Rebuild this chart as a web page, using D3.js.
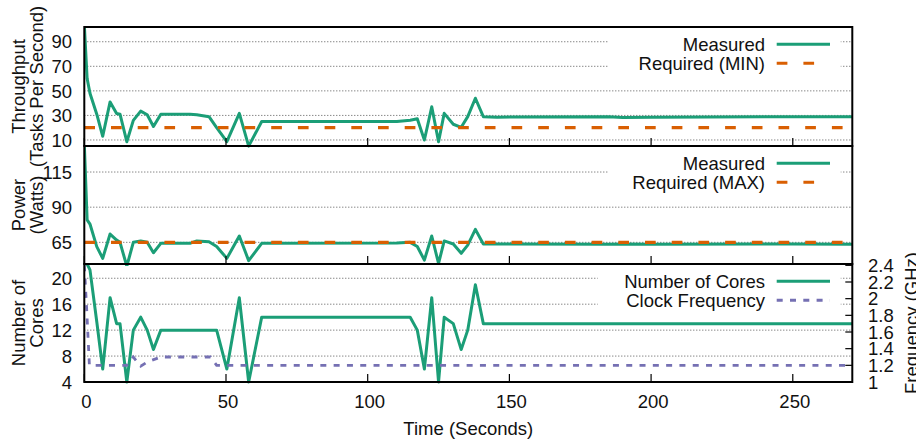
<!DOCTYPE html>
<html>
<head>
<meta charset="utf-8">
<script src="https://cdn.jsdelivr.net/npm/d3@7"></script>
<style>
    body { margin: 0; background: #fff; }
    text { font-family: "Liberation Sans", Arial, Helvetica, sans-serif; font-size: 18.5px; fill: #111; }
</style>
</head>
<body>
<div id="chart"></div>
<script>
// Sample times shared by the three measured series (seconds)
const timeSec = [0, 1, 2, 4.4, 6.5, 9.1, 11.4, 12.6, 15, 17.3, 19.9, 22.2, 24.4, 27, 37.3, 39.7, 44, 46.7,
    50.3, 54.7, 58, 62.6, 110.3, 115, 117.5, 120, 122.6, 125, 127, 130.2, 133, 135.3, 138, 140.8, 145.6,
    185, 190, 200, 250, 271];
const throughput = [104, 60, 48, 31, 13, 41, 31.5, 31, 8.6, 26, 33.5, 30.5, 21, 31, 31, 30.5, 29, 20,
    8.6, 31.7, 5, 25, 25, 26, 27.3, 10, 37, 8.6, 31.7, 22.8, 20.3, 29, 44, 29, 28.6,
    29, 28.4, 28.6, 29, 28.9];
const power = [135, 81, 78, 62, 53.6, 70.9, 66.6, 65, 48, 65, 66, 65, 57.6, 64.3, 64.3, 66, 65.4, 62,
    53.6, 69.5, 52, 64.3, 64.5, 65, 62, 52.4, 69.5, 50, 66, 63.8, 57.2, 63, 74.2, 63.8, 63.8,
    63.6, 63.8, 63.6, 63.8, 63.6];
const cores = [22.2, 22.2, 21.3, 13.3, 6, 17, 13, 13, 4, 12, 14, 12, 9, 12, 12, 12, 12, 12,
    6, 17, 4, 14, 14, 14, 12, 6, 17, 4, 14, 13, 9, 12, 19, 13, 13,
    13, 13, 13, 13, 13];

// Clock frequency has its own sample times
const freqTime = [0, 0.8, 1.8, 15, 17.3, 19.9, 22.2, 27, 44.5, 46.7, 271];
const freqGHz = [2.4, 1.9, 1.2, 1.2, 1.3, 1.19, 1.24, 1.3, 1.3, 1.2, 1.2];

const throughputMin = 20;
const powerMax = 65;

const xTicks = [0, 50, 100, 150, 200, 250];
const throughputTicks = [10, 30, 50, 70, 90];
const powerTicks = [65, 90, 115];
const coreTicks = [4, 8, 12, 16, 20];
const freqTicks = [1, 1.2, 1.4, 1.6, 1.8, 2, 2.2, 2.4];

const colors = {
    measured: '#1b9e77',
    required: '#d95f02',
    freq: '#7570b3'
};

const W = 916, H = 443;
const plotLeft = 84.3, plotRight = 852.3;
const panels = [
    {top: 27, bottom: 146, domain: [5.1, 102], ticks: throughputTicks,
        label: ['Throughput', '(Tasks Per Second)'],
        keys: [{name: 'Measured', color: colors.measured, dash: null},
               {name: 'Required (MIN)', color: colors.required, dash: '10.7,16'}]},
    {top: 146, bottom: 264, domain: [49.6, 133.5], ticks: powerTicks,
        label: ['Power', '(Watts)'],
        keys: [{name: 'Measured', color: colors.measured, dash: null},
               {name: 'Required (MAX)', color: colors.required, dash: '10.7,16'}]},
    {top: 264, bottom: 382, domain: [4, 22.2], ticks: coreTicks,
        label: ['Number of', 'Cores'],
        keys: [{name: 'Number of Cores', color: colors.measured, dash: null},
               {name: 'Clock Frequency', color: colors.freq, dash: '6,7.3'}]}
];

const svg = d3.select('#chart').append('svg')
    .attr('width', W)
    .attr('height', H);

const x = d3.scaleLinear().domain([0, 271]).range([plotLeft, plotRight]);

panels.forEach((p, i) => {
    p.y = d3.scaleLinear().domain(p.domain).range([p.bottom, p.top]);
    // a little slack at the bottom so lines touching the axis are not cut in half
    svg.append('clipPath').attr('id', 'clip' + i)
        .append('rect')
        .attr('x', plotLeft).attr('y', p.top)
        .attr('width', plotRight - plotLeft).attr('height', p.bottom - p.top + 2);
});

const yFreq = d3.scaleLinear().domain([1, 2.416]).range([panels[2].bottom, panels[2].top]);

// Grid lines and legend backing
panels.forEach(p => {
    svg.append('g').selectAll('line')
        .data(p.ticks)
        .join('line')
        .attr('x1', plotLeft).attr('x2', plotRight)
        .attr('y1', d => p.y(d)).attr('y2', d => p.y(d))
        .attr('stroke', '#555')
        .attr('stroke-width', 1)
        .attr('stroke-dasharray', '1,2');

    const maxChars = d3.max(p.keys, k => k.name.length);
    const keyRight = 840.7;
    const rowY = [p.top + 17.3, p.top + 36.3];
    p.rowY = rowY;
    svg.append('rect')
        .attr('x', keyRight - (maxChars * 10.3 + 88.5))
        .attr('y', rowY[0] - 10)
        .attr('width', maxChars * 10.3 + 88.5)
        .attr('height', rowY[1] - rowY[0] + 20)
        .attr('fill', '#fff');
});

const line = (yScale) => d3.line().x(d => x(d[0])).y(d => yScale(d[1]));

// Throughput
svg.append('path')
    .datum(d3.zip(timeSec, throughput))
    .attr('clip-path', 'url(#clip0)')
    .attr('fill', 'none').attr('stroke', colors.measured)
    .attr('stroke-width', 3).attr('stroke-linejoin', 'round')
    .attr('d', line(panels[0].y));
svg.append('path')
    .datum([[0, throughputMin], [271, throughputMin]])
    .attr('clip-path', 'url(#clip0)')
    .attr('fill', 'none').attr('stroke', colors.required)
    .attr('stroke-width', 3.3).attr('stroke-dasharray', '10.7,16')
    .attr('d', line(panels[0].y));

// Power
svg.append('path')
    .datum(d3.zip(timeSec, power))
    .attr('clip-path', 'url(#clip1)')
    .attr('fill', 'none').attr('stroke', colors.measured)
    .attr('stroke-width', 3).attr('stroke-linejoin', 'round')
    .attr('d', line(panels[1].y));
svg.append('path')
    .datum([[0, powerMax], [271, powerMax]])
    .attr('clip-path', 'url(#clip1)')
    .attr('fill', 'none').attr('stroke', colors.required)
    .attr('stroke-width', 3.3).attr('stroke-dasharray', '10.7,16')
    .attr('d', line(panels[1].y));

// Cores and clock frequency
svg.append('path')
    .datum(d3.zip(timeSec, cores))
    .attr('clip-path', 'url(#clip2)')
    .attr('fill', 'none').attr('stroke', colors.measured)
    .attr('stroke-width', 3).attr('stroke-linejoin', 'round')
    .attr('d', line(panels[2].y));
svg.append('path')
    .datum(d3.zip(freqTime, freqGHz))
    .attr('clip-path', 'url(#clip2)')
    .attr('fill', 'none').attr('stroke', colors.freq)
    .attr('stroke-width', 2.8).attr('stroke-dasharray', '6,7.3')
    .attr('d', line(yFreq));

// Legends
panels.forEach(p => {
    p.keys.forEach((k, j) => {
        svg.append('text')
            .attr('x', 765)
            .attr('y', p.rowY[j] + 6.5)
            .attr('text-anchor', 'end')
            .text(k.name);
        svg.append('line')
            .attr('x1', 776.7).attr('x2', 830)
            .attr('y1', p.rowY[j]).attr('y2', p.rowY[j])
            .attr('stroke', k.color)
            .attr('stroke-width', 3)
            .attr('stroke-dasharray', k.dash);
    });
});

// Borders, ticks and labels
panels.forEach((p, i) => {
    svg.append('rect')
        .attr('x', plotLeft).attr('y', p.top)
        .attr('width', plotRight - plotLeft).attr('height', p.bottom - p.top)
        .attr('fill', 'none').attr('stroke', '#000').attr('stroke-width', 2);

    svg.append('g').selectAll('line')
        .data(xTicks)
        .join('line')
        .attr('x1', d => x(d)).attr('x2', d => x(d))
        .attr('y1', p.bottom).attr('y2', p.bottom - 8)
        .attr('stroke', '#000').attr('stroke-width', 1.2);

    svg.append('g').selectAll('text')
        .data(p.ticks)
        .join('text')
        .attr('x', 72)
        .attr('y', d => p.y(d))
        .attr('dy', '0.36em')
        .attr('text-anchor', 'end')
        .text(d => d);

    const cy = (p.top + p.bottom) / 2;
    p.label.forEach((s, j) => {
        svg.append('text')
            .attr('transform', `translate(${j === 0 ? 24.7 : 43},${cy}) rotate(-90)`)
            .attr('text-anchor', 'middle')
            .text(s);
    });
});

// Right frequency axis
svg.append('g').selectAll('line')
    .data(freqTicks)
    .join('line')
    .attr('x1', plotRight).attr('x2', plotRight - 7)
    .attr('y1', d => yFreq(d)).attr('y2', d => yFreq(d))
    .attr('stroke', '#000').attr('stroke-width', 1.2);

svg.append('g').selectAll('text')
    .data(freqTicks)
    .join('text')
    .attr('x', 868)
    .attr('y', d => yFreq(d))
    .attr('dy', '0.36em')
    .text(d => d);

svg.append('text')
    .attr('transform', `translate(918,${(panels[2].top + panels[2].bottom) / 2}) rotate(-90)`)
    .attr('text-anchor', 'middle')
    .text('Frequency (GHz)');

// Bottom x axis labels
svg.append('g').selectAll('text')
    .data(xTicks)
    .join('text')
    .attr('x', d => x(d) + 2)
    .attr('y', 408)
    .attr('text-anchor', 'middle')
    .text(d => d);

svg.append('text')
    .attr('x', (plotLeft + plotRight) / 2)
    .attr('y', 435)
    .attr('text-anchor', 'middle')
    .text('Time (Seconds)');
</script>
</body>
</html>
